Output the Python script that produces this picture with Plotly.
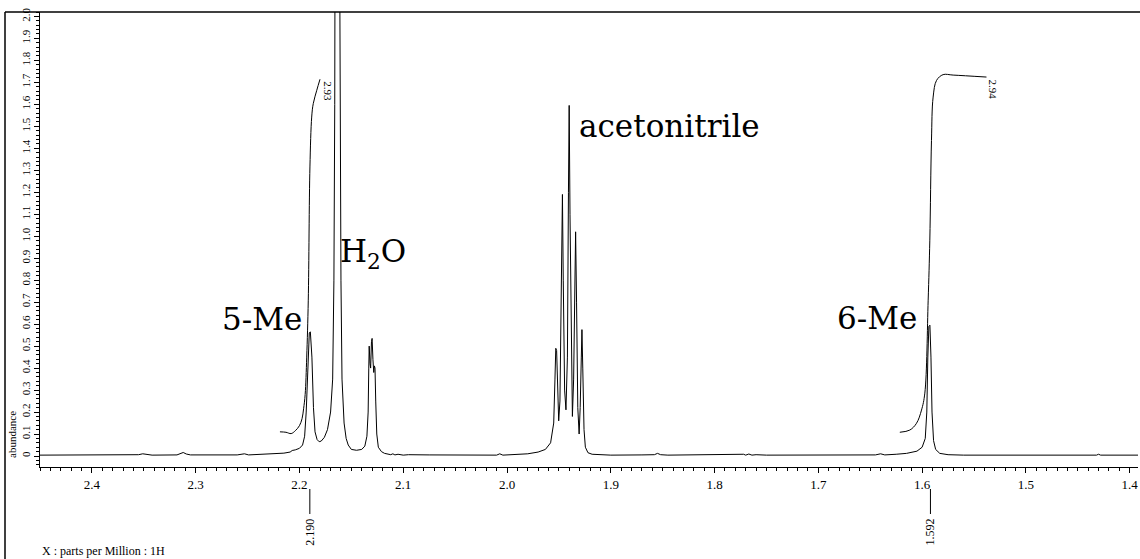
import plotly.graph_objects as go

# ---------------- data ----------------
# 1H NMR trace: chemical shift (ppm) and abundance
spec_ppm = [
    2.450, 2.360, 2.355, 2.351, 2.347, 2.342, 2.318, 2.315, 2.312, 2.309, 2.305,
    2.260, 2.253, 2.249, 2.230, 2.215, 2.209, 2.207, 2.204, 2.200, 2.197, 2.195,
    2.1935, 2.192, 2.1905, 2.1895, 2.188, 2.1865, 2.185, 2.183, 2.181, 2.179,
    2.176, 2.173, 2.170, 2.168, 2.1668, 2.1660, 2.1655, 2.1635, 2.1615, 2.1610,
    2.1600, 2.1590, 2.157, 2.155, 2.153, 2.150, 2.145, 2.140, 2.137, 2.135,
    2.1338, 2.1332, 2.1328, 2.1320, 2.1314, 2.1306, 2.1300, 2.1292, 2.1284,
    2.1278, 2.1272, 2.1265, 2.1255, 2.124, 2.121, 2.118, 2.115, 2.112, 2.110,
    2.108, 2.105, 2.100, 2.095, 2.080, 2.075, 2.010, 2.007, 2.004, 1.990, 1.980,
    1.970, 1.963, 1.958, 1.955, 1.9538, 1.9530, 1.9522, 1.9512, 1.9502, 1.9490,
    1.9476, 1.9466, 1.9458, 1.9445, 1.9432, 1.9418, 1.9408, 1.9401, 1.9393,
    1.9380, 1.9370, 1.9358, 1.9346, 1.9339, 1.9330, 1.9318, 1.9305, 1.9295,
    1.9284, 1.9278, 1.9270, 1.9258, 1.9245, 1.922, 1.918, 1.910, 1.900, 1.870,
    1.858, 1.855, 1.852, 1.845, 1.780, 1.772, 1.770, 1.767, 1.764, 1.760, 1.750,
    1.645, 1.640, 1.636, 1.625, 1.615, 1.605, 1.600, 1.597, 1.5955, 1.5945,
    1.5935, 1.5925, 1.5915, 1.5905, 1.589, 1.587, 1.583, 1.575, 1.560, 1.432,
    1.430, 1.428, 1.392,
]
spec_abund = [
    0.004, 0.004, 0.006, 0.010, 0.006, 0.004, 0.005, 0.009, 0.016, 0.009, 0.005,
    0.005, 0.010, 0.005, 0.008, 0.013, 0.018, 0.025, 0.028, 0.035, 0.050, 0.090,
    0.20, 0.42, 0.56, 0.565, 0.45, 0.22, 0.11, 0.075, 0.065, 0.068,
    0.085, 0.12, 0.20, 0.35, 0.80, 1.60, 2.60, 8.00, 2.60, 1.60,
    0.80, 0.35, 0.15, 0.08, 0.05, 0.03, 0.026, 0.03, 0.045, 0.09,
    0.20, 0.40, 0.50, 0.42, 0.40, 0.52, 0.535, 0.44, 0.38,
    0.41, 0.40, 0.25, 0.10, 0.04, 0.02, 0.012, 0.010, 0.006, 0.010,
    0.005, 0.008, 0.004, 0.006, 0.004, 0.005, 0.004, 0.010, 0.004, 0.006, 0.010,
    0.018, 0.030, 0.060, 0.150, 0.35, 0.49, 0.48, 0.25, 0.16, 0.25,
    0.70, 1.19, 0.80, 0.30, 0.21, 0.45, 1.20, 1.595, 1.10,
    0.35, 0.18, 0.35, 0.80, 1.02, 0.70, 0.22, 0.10, 0.22,
    0.45, 0.575, 0.40, 0.12, 0.040, 0.015, 0.008, 0.005, 0.004, 0.005,
    0.006, 0.012, 0.006, 0.004, 0.005, 0.008, 0.004, 0.009, 0.004, 0.006, 0.004,
    0.005, 0.010, 0.005, 0.008, 0.012, 0.022, 0.040, 0.080, 0.20, 0.45,
    0.59, 0.595, 0.45, 0.20, 0.07, 0.030, 0.012, 0.006, 0.004, 0.004,
    0.008, 0.004, 0.004,
]

# integral curves
int1_ppm = [2.2188, 2.2130, 2.2080, 2.2040, 2.2000, 2.1975, 2.1960, 2.1945,
            2.1930, 2.1915, 2.1899, 2.1882, 2.1867, 2.1833, 2.1802]
int1_val = [0.110, 0.108, 0.102, 0.115, 0.138, 0.170, 0.215, 0.28,
            0.45, 0.709, 1.315, 1.542, 1.603, 1.664, 1.714]
int2_ppm = [1.6215, 1.6119, 1.6054, 1.6006, 1.5974, 1.5942, 1.5926, 1.5910,
            1.5894, 1.5861, 1.5798, 1.5701, 1.5380]
int2_val = [0.108, 0.118, 0.149, 0.209, 0.286, 0.709, 0.982, 1.436,
            1.633, 1.709, 1.735, 1.733, 1.724]
integral_labels = ["2.93", "2.94"]
integral_label_ppm = [2.1725, 1.5312]
integral_label_val = [1.66, 1.67]

# picked peaks
peak_ppm = [2.190, 1.592]
peak_text = ["2.190", "1.592"]

# compound labels
label_text = ["5-Me", "H<sub>2</sub>O", "acetonitrile", "6-Me"]
label_ppm = [2.2361, 2.1292, 1.8432, 1.6436]
label_val = [0.625, 0.92, 1.50, 0.63]

# tick labels
x_tick_vals = [2.4, 2.3, 2.2, 2.1, 2.0, 1.9, 1.8, 1.7, 1.6, 1.5, 1.4]
x_tick_text = ["2.4", "2.3", "2.2", "2.1", "2.0", "1.9", "1.8", "1.7", "1.6", "1.5", "1.4"]
y_tick_vals = [0, 0.1, 0.2, 0.3, 0.4, 0.5, 0.6, 0.7, 0.8, 0.9, 1.0,
               1.1, 1.2, 1.3, 1.4, 1.5, 1.6, 1.7, 1.8, 1.9, 2.0]
y_tick_text = ["0", "0.1", "0.2", "0.3", "0.4", "0.5", "0.6", "0.7", "0.8", "0.9", "1.0",
               "1.1", "1.2", "1.3", "1.4", "1.5", "1.6", "1.7", "1.8", "1.9", "2.0"]

X_RANGE = [2.450, 1.392]
Y_RANGE = [-0.05, 2.02]

# ---------------- figure ----------------
SERIF = "Liberation Serif"
LABEL_FONT = "DejaVu Serif"

fig = go.Figure()
line_style = dict(color="black", width=1)
fig.add_trace(go.Scatter(x=spec_ppm, y=spec_abund, mode="lines", line=line_style,
                         hoverinfo="skip", showlegend=False))
fig.add_trace(go.Scatter(x=int1_ppm, y=int1_val, mode="lines", line=line_style,
                         line_shape="spline", hoverinfo="skip", showlegend=False))
fig.add_trace(go.Scatter(x=int2_ppm, y=int2_val, mode="lines", line=line_style,
                         line_shape="spline", hoverinfo="skip", showlegend=False))

W, H = 1140, 559
ML, MR, MT, MB = 40, 2, 12, 92
pw, ph = W - ML - MR, H - MT - MB


def px_to_paper_x(px):
    return (px - ML) / pw


def py_to_paper_y(py):
    return (H - MB - py) / ph


fig.update_layout(
    width=W, height=H,
    margin=dict(l=ML, r=MR, t=MT, b=MB, pad=0),
    paper_bgcolor="white", plot_bgcolor="white",
    showlegend=False,
)
fig.update_xaxes(
    range=X_RANGE, tickmode="array", tickvals=x_tick_vals, ticktext=x_tick_text,
    ticks="outside", ticklen=5, tickwidth=1, tickcolor="black",
    minor=dict(tick0=0, dtick=0.01, ticks="outside", ticklen=3, tickcolor="black", showgrid=False),
    showline=True, linecolor="black", linewidth=1, mirror=False,
    showgrid=False, zeroline=False,
    tickfont=dict(family=SERIF, size=13, color="black"),
)
fig.update_yaxes(
    range=Y_RANGE, tickmode="array", tickvals=y_tick_vals, ticktext=y_tick_text,
    ticks="outside", ticklen=5, tickwidth=1, tickcolor="black", tickangle=-90,
    minor=dict(tick0=0, dtick=0.02, ticks="outside", ticklen=3, tickcolor="black", showgrid=False),
    showline=True, linecolor="black", linewidth=1,
    showgrid=False, zeroline=False,
    tickfont=dict(family=SERIF, size=11, color="black"),
)

# outer frame (left and top)
shapes = [
    dict(type="line", xref="paper", yref="paper", x0=px_to_paper_x(5), x1=px_to_paper_x(1140),
         y0=1, y1=1, line=dict(color="black", width=1.5)),
    dict(type="line", xref="paper", yref="paper", x0=px_to_paper_x(5), x1=px_to_paper_x(5),
         y0=1, y1=py_to_paper_y(560), line=dict(color="black", width=1.5)),
]
annotations = []

# peak markers
for p, t in zip(peak_ppm, peak_text):
    shapes.append(dict(type="line", xref="x", yref="paper", x0=p, x1=p,
                       y0=py_to_paper_y(489), y1=py_to_paper_y(514),
                       line=dict(color="black", width=1)))
    annotations.append(dict(x=p, y=py_to_paper_y(532), xref="x", yref="paper", text=t,
                            showarrow=False, textangle=-90, xanchor="center", yanchor="middle",
                            font=dict(family=SERIF, size=12, color="black")))

# integral labels
for t, xv, yv in zip(integral_labels, integral_label_ppm, integral_label_val):
    annotations.append(dict(x=xv, y=yv, xref="x", yref="y", text=t, showarrow=False,
                            textangle=90, xanchor="center", yanchor="middle",
                            font=dict(family=SERIF, size=11, color="black")))

# compound labels
for t, xv, yv in zip(label_text, label_ppm, label_val):
    annotations.append(dict(x=xv, y=yv, xref="x", yref="y", text=t, showarrow=False,
                            xanchor="center", yanchor="middle",
                            font=dict(family=LABEL_FONT, size=31, color="black")))

# axis titles
annotations.append(dict(x=px_to_paper_x(12), y=py_to_paper_y(434), xref="paper", yref="paper",
                        text="abundance", showarrow=False, textangle=-90,
                        xanchor="center", yanchor="middle",
                        font=dict(family=SERIF, size=11, color="black")))
annotations.append(dict(x=px_to_paper_x(40), y=py_to_paper_y(551), xref="paper", yref="paper",
                        text="X : parts per Million : 1H", showarrow=False, xanchor="left",
                        yanchor="middle", font=dict(family=SERIF, size=12, color="black")))

fig.update_layout(shapes=shapes, annotations=annotations)
fig.write_html("out.html")
